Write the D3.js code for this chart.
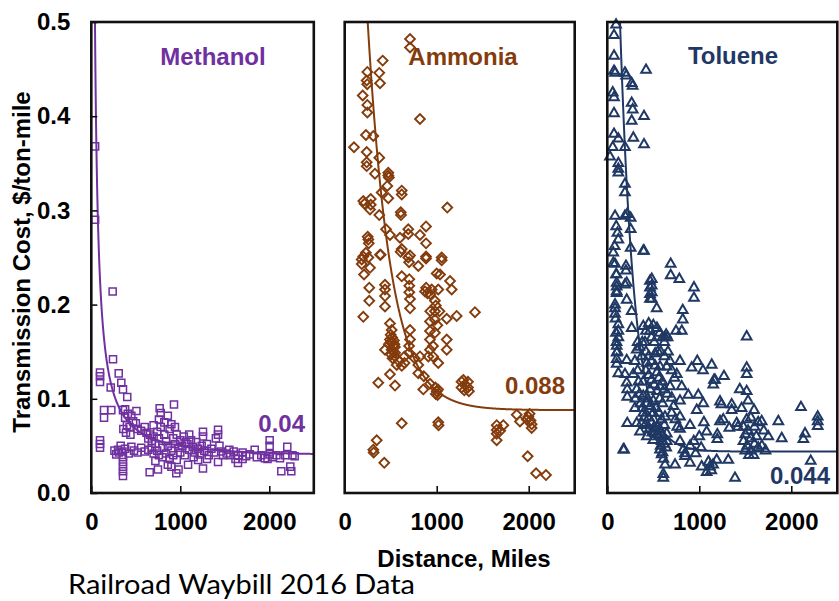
<!DOCTYPE html>
<html>
<head>
<meta charset="utf-8">
<script src="https://cdn.jsdelivr.net/npm/d3@7"></script>
<style>
  body { margin: 0; background: #fff; }
  svg { display: block; }
  .bold { font-family: "Liberation Sans", Arial, sans-serif; font-weight: bold; }
</style>
</head>
<body>
<svg id="chart" width="839" height="601"></svg>
<script>
// ---- data -------------------------------------------------------------
const chemicals = ["Methanol", "Ammonia", "Toluene"];
const colors = ["#7030A0", "#843C0C", "#1F3864"];
const asymptotes = [0.04, 0.088, 0.044];          // long-haul cost floor, $/ton-mile
const asymptoteLabels = ["0.04", "0.088", "0.044"];
const xTicks = [0, 1000, 2000];
const yTicks = [0, 0.1, 0.2, 0.3, 0.4, 0.5];
const yTickLabels = ["0.0", "0.1", "0.2", "0.3", "0.4", "0.5"];

// [distance in miles, cost in $/ton-mile]
const methanol = [
  [43,0.368],[43,0.290],[240,0.214],
  [98,0.128],[98,0.124],[98,0.118],[244,0.142],[308,0.127],[337,0.117],[356,0.110],[218,0.112],[404,0.102],
  [143,0.088],[143,0.080],[225,0.088],[356,0.088],[380,0.089],[98,0.056],[98,0.052],[98,0.048],
  [507,0.087],[768,0.090],[929,0.094],
  [380,0.080],[410,0.084],[450,0.082],[470,0.076],[400,0.072],[430,0.070],[500,0.074],[520,0.068],[390,0.064],
  [440,0.062],[560,0.066],[600,0.070],[620,0.064],[360,0.068],
  [300,0.046],[310,0.043],[330,0.050],[350,0.044],[380,0.047],[420,0.042],[450,0.049],[480,0.045],[520,0.043],
  [560,0.048],[600,0.044],[640,0.046],[280,0.041],[260,0.045],
  [356,0.033],[356,0.028],[356,0.023],[356,0.018],[356,0.038],
  [680,0.055],[700,0.060],[720,0.052],[740,0.065],[760,0.058],[780,0.070],[800,0.048],[820,0.062],[840,0.055],
  [860,0.050],[880,0.068],[900,0.045],[920,0.058],[940,0.052],[960,0.062],[980,0.048],[1000,0.056],[1020,0.050],
  [1040,0.060],[1060,0.054],[740,0.045],[760,0.040],[800,0.038],[840,0.042],[880,0.036],[920,0.040],[960,0.035],
  [1000,0.043],[700,0.072],[760,0.078],[820,0.075],[860,0.082],[900,0.073],[940,0.070],[780,0.085],[660,0.062],
  [640,0.058],[680,0.048],[700,0.042],[720,0.034],[860,0.030],[900,0.028],[955,0.021],[980,0.025],[749,0.025],
  [656,0.022],[1087,0.030],[1255,0.026],
  [1080,0.052],[1100,0.046],[1120,0.056],[1140,0.049],[1160,0.043],[1180,0.054],[1200,0.047],[1220,0.041],
  [1240,0.050],[1255,0.065],[1255,0.060],[1270,0.045],[1300,0.052],[1320,0.040],[1350,0.047],[1380,0.043],
  [1400,0.058],[1424,0.067],[1424,0.062],[1424,0.033],[1440,0.050],[1460,0.044],[1480,0.040],[1100,0.062],
  [1150,0.038],[1200,0.035],[1050,0.040],[1300,0.036],
  [1520,0.042],[1560,0.040],[1600,0.044],[1648,0.032],[1650,0.040],[1700,0.043],[1740,0.039],[1780,0.041],
  [1836,0.046],[1860,0.038],[1910,0.040],[1950,0.037],[2004,0.056],[2004,0.050],[2004,0.041],[2040,0.038],
  [2080,0.040],[2120,0.037],[2135,0.023],[2202,0.049],[2236,0.028],[2247,0.023],[2260,0.040],[2285,0.039],
  [2180,0.040],[1980,0.036],[1550,0.046],[1620,0.036],[1700,0.036]
];

const ammonia = [
  [710,0.482],[710,0.473],[413,0.459],[246,0.447],[376,0.446],[239,0.438],[245,0.434],[384,0.435],[196,0.422],
  [246,0.412],[246,0.404],[818,0.397],[231,0.380],[311,0.379],[101,0.367],[239,0.362],[376,0.356],[239,0.351],
  [239,0.347],[329,0.339],[474,0.340],[474,0.337],[480,0.335],[463,0.326],[402,0.319],[620,0.321],[620,0.317],
  [202,0.310],[215,0.307],[283,0.312],[283,0.306],[275,0.301],[474,0.313],[376,0.295],[609,0.298],[612,0.295],
  [1115,0.303],[449,0.280],[492,0.274],[257,0.269],[262,0.265],[250,0.272],[691,0.280],[691,0.275],[818,0.274],
  [884,0.283],[601,0.271],[884,0.265],[620,0.259],[391,0.253],[710,0.252],[1054,0.250],[884,0.251],[202,0.251],
  [230,0.255],[257,0.250],[185,0.248],[185,0.243],[275,0.239],[384,0.253],[608,0.256],[691,0.250],[700,0.245],
  [800,0.241],[884,0.249],[1054,0.247],[210,0.232],[267,0.218],[267,0.204],[202,0.187],[438,0.221],[438,0.216],
  [438,0.209],[438,0.198],[620,0.230],[702,0.227],[702,0.220],[702,0.213],[710,0.206],[710,0.196],[873,0.214],
  [885,0.218],[900,0.212],[946,0.216],[1017,0.216],[930,0.211],[1036,0.232],[1000,0.233],[1145,0.225],
  [1163,0.216],[981,0.204],[990,0.199],[981,0.193],[930,0.193],[1030,0.193],[1109,0.185],[1217,0.188],
  [1416,0.192],[927,0.182],[981,0.184],[1007,0.178],[492,0.180],[511,0.173],[492,0.163],[500,0.168],[520,0.160],
  [530,0.156],[547,0.149],[510,0.152],[540,0.158],[480,0.158],[438,0.152],[500,0.160],[515,0.165],[525,0.150],
  [535,0.162],[545,0.155],[505,0.147],[520,0.143],[547,0.145],[590,0.140],[620,0.135],[650,0.138],
  [710,0.173],[710,0.163],[700,0.156],[700,0.149],[927,0.172],[981,0.170],[927,0.163],[960,0.156],[1109,0.163],
  [1109,0.152],[927,0.152],[909,0.145],[960,0.145],[1017,0.138],[818,0.145],[800,0.136],[760,0.143],[565,0.136],
  [650,0.145],[492,0.126],[800,0.127],[860,0.124],[927,0.116],[365,0.117],[547,0.114],[854,0.110],
  [1000,0.108],[985,0.112],[1010,0.104],[990,0.105],[1015,0.110],
  [1308,0.115],[1270,0.118],[1340,0.118],[1270,0.112],[1340,0.112],[1300,0.109],[1350,0.108],[1290,0.120],
  [620,0.074],[1017,0.075],[1020,0.072],[1652,0.072],[1652,0.067],[1652,0.063],[1652,0.056],[1690,0.066],
  [1724,0.072],[1870,0.083],[1905,0.076],[1996,0.081],[1980,0.078],[2010,0.084],[2020,0.077],[2032,0.069],
  [2032,0.073],[1989,0.039],[2080,0.021],[2188,0.019],[348,0.056],[311,0.046],[315,0.043],[430,0.032]
];

const toluene = [
  [95,0.497],[73,0.486],[73,0.464],[73,0.448],[85,0.446],[59,0.425],[73,0.420],[73,0.403],[73,0.381],[120,0.376],
  [59,0.367],[29,0.357],[120,0.350],[120,0.344],[120,0.340],[84,0.294],[97,0.283],[110,0.276],[120,0.269],
  [80,0.262],[65,0.255],[65,0.244],[100,0.232],[102,0.219],[102,0.212],[84,0.243],[95,0.232],[102,0.223],
  [102,0.214],[84,0.200],[84,0.196],[120,0.179],[120,0.172],[120,0.165],[102,0.156],[102,0.149],[102,0.142],
  [102,0.137],[120,0.127],[84,0.190],[90,0.185],[100,0.160],[110,0.150],[95,0.170],
  [192,0.446],[205,0.443],[421,0.449],[265,0.435],[275,0.432],[265,0.414],[276,0.407],[399,0.400],[265,0.395],
  [283,0.377],[399,0.370],[192,0.367],[192,0.328],[192,0.319],[217,0.296],[254,0.292],[254,0.280],[192,0.294],
  [254,0.260],[399,0.257],[203,0.241],[203,0.236],[192,0.221],[211,0.205],[265,0.193],[265,0.175],[211,0.223],
  [211,0.141],[283,0.126],[192,0.126],[211,0.117],[217,0.110],[217,0.102],[217,0.074],[182,0.046],[320,0.074],
  [174,0.046],
  [689,0.243],[689,0.231],[783,0.227],[483,0.227],[483,0.220],[483,0.213],[483,0.206],[942,0.218],[942,0.207],
  [391,0.257],[464,0.225],[464,0.218],[464,0.211],[464,0.206],[537,0.196],[820,0.194],[820,0.184],[747,0.172],
  [810,0.172],[627,0.165],[640,0.168],[655,0.165],[620,0.160],[391,0.177],[420,0.172],[464,0.172],[480,0.165],
  [510,0.160],[540,0.175],[570,0.170],[450,0.180],[500,0.178],
  [320,0.152],[374,0.145],[428,0.138],[573,0.134],[646,0.134],[755,0.126],[790,0.140],[917,0.133],[978,0.140],
  [809,0.113],[880,0.104],[989,0.104],[1043,0.095],[972,0.088],[682,0.113],[700,0.101],[790,0.098],[573,0.113],
  [391,0.118],[464,0.110],[391,0.103],[428,0.095],[391,0.085],[500,0.085],[627,0.081],[790,0.081],[899,0.072],
  [374,0.074],[355,0.065],[518,0.065],[646,0.063],[790,0.068],[500,0.056],[591,0.055],[573,0.046],[591,0.041],
  [646,0.055],[790,0.055],[826,0.046],[845,0.039],[627,0.030],[736,0.030],[609,0.016],[609,0.020],
  [420,0.150],[450,0.145],[480,0.140],[520,0.135],[540,0.128],[560,0.122],[600,0.118],[620,0.110],[650,0.105],
  [420,0.130],[450,0.125],[480,0.120],[510,0.115],[540,0.108],[570,0.100],[600,0.095],[440,0.100],[470,0.092],
  [500,0.098],[530,0.090],[560,0.085],[590,0.078],[620,0.072],[450,0.080],[480,0.075],[510,0.070],[540,0.062],
  [570,0.068],[600,0.060],[620,0.052],[640,0.048],[580,0.050],[600,0.043],[610,0.036],[560,0.060],[540,0.070],
  [430,0.060],[460,0.068],[490,0.064],[700,0.085],[720,0.092],[740,0.078],[760,0.070],[680,0.140],[700,0.130],
  [730,0.122],[660,0.150],[620,0.145],[580,0.150],[300,0.140],[330,0.130],[340,0.118],[350,0.105],[360,0.095],
  [330,0.160],[350,0.155],[305,0.100],[300,0.090],[320,0.110],[380,0.090],[400,0.080],[410,0.072],[380,0.160],
  [410,0.160],[600,0.165],[550,0.150],[520,0.148],
  [1171,0.120],[1152,0.115],[1268,0.124],[1225,0.097],[1240,0.094],[1352,0.094],[1352,0.088],[1225,0.076],
  [1260,0.078],[1326,0.069],[1407,0.074],[1196,0.062],[1196,0.057],[1515,0.166],[1515,0.133],[1515,0.126],
  [1515,0.108],[1595,0.088],[1515,0.078],[1480,0.070],[1500,0.062],[1530,0.066],[1560,0.058],[1520,0.050],
  [1560,0.045],[1600,0.052],[1620,0.060],[1640,0.048],[1480,0.055],[1500,0.045],[1540,0.040],[1590,0.040],
  [1678,0.076],[1750,0.060],[1700,0.066],[1680,0.050],[1720,0.045],[1859,0.076],[1896,0.058],[2105,0.091],
  [2149,0.063],[2131,0.057],[2287,0.081],[2287,0.076],[2287,0.071],[2211,0.034],[1116,0.028],[1026,0.028],
  [1189,0.035],[1315,0.035],[1388,0.016],[1100,0.033],[1130,0.024],[1150,0.030],[1080,0.022],[1135,0.136],
  [1160,0.120],[1040,0.130],[1440,0.110],[1420,0.070],[1460,0.090],[1530,0.098],[1560,0.080],[1600,0.070],
  [1640,0.075],[899,0.032],[845,0.042],[1050,0.075],[1080,0.065],[1000,0.060],[940,0.055],[900,0.050],
  [960,0.042],[1020,0.048]
];

// Fitted decay of cost with haul distance toward the long-haul floor
const fits = [
  d => asymptotes[0] + (19.5 / d) * Math.exp(-d / 1500),  // methanol: hyperbolic, damped
  d => asymptotes[1] + 1.12 * Math.exp(-0.004 * d),       // ammonia: exponential decay
  d => asymptotes[2] + 1.12 * Math.exp(-0.0065 * d)       // toluene: exponential decay
];
const seriesData = [methanol, ammonia, toluene];

// ---- layout -----------------------------------------------------------
const svg = d3.select("#chart");
const plotTop = 22, plotBottom = 493;
const panelRanges = [[91.3, 313.8], [344.7, 574.7], [607.3, 837.3]];
const nameLabelPos = [[213, 65], [463, 65], [733, 63.5]];
const valueLabelPos = [[305, 432], [565, 394], [830, 483.5]];
const y = d3.scaleLinear().domain([0, 0.5]).range([plotBottom, plotTop]);

const markerPaths = [
  d3.symbol().type(d3.symbolSquare).size(50)(),
  d3.symbol().type(d3.symbolSquare).size(48)(),
  d3.symbol().type(d3.symbolTriangle).size(40)()
];
const markerRotate = [0, 45, 0];
const markerStroke = [1.5, 1.9, 2];

const defs = svg.append("defs");

chemicals.forEach((name, i) => {
  const x = d3.scaleLinear().domain([0, 2500]).range(panelRanges[i]);
  const g = svg.append("g");
  const color = colors[i];
  const w = panelRanges[i][1] - panelRanges[i][0];

  defs.append("clipPath").attr("id", "clip" + i)
    .append("rect")
    .attr("x", panelRanges[i][0]).attr("y", plotTop)
    .attr("width", w).attr("height", plotBottom - plotTop);

  // scatter markers
  g.append("g").selectAll("path")
    .data(seriesData[i])
    .join("path")
    .attr("d", markerPaths[i])
    .attr("transform", d => `translate(${x(d[0])},${y(d[1])}) rotate(${markerRotate[i]})`)
    .attr("fill", "none")
    .attr("stroke", color)
    .attr("stroke-width", markerStroke[i]);

  // fitted curve
  const dists = d3.range(2, 2501, 2);
  g.append("path")
    .datum(dists)
    .attr("clip-path", `url(#clip${i})`)
    .attr("fill", "none")
    .attr("stroke", color)
    .attr("stroke-width", 2)
    .attr("d", d3.line().x(d => x(d)).y(d => y(Math.min(fits[i](d), 0.6))));

  // x axis: inward ticks, labels below
  const xAxis = g.append("g")
    .attr("transform", `translate(0,${plotBottom})`)
    .call(d3.axisBottom(x).tickValues(xTicks).tickSize(-7).tickPadding(20).tickFormat(d3.format("d")));
  xAxis.select(".domain").remove();
  xAxis.selectAll("line").attr("stroke", "#000").attr("stroke-width", 1.5);
  xAxis.selectAll("text")
    .attr("class", "bold").attr("font-size", 24).attr("fill", "#000");

  // y axis only on the first panel
  if (i === 0) {
    const yAxis = g.append("g")
      .attr("transform", `translate(${panelRanges[0][0]},0)`)
      .call(d3.axisLeft(y).tickValues(yTicks).tickSize(-6).tickPadding(21)
        .tickFormat((d, k) => yTickLabels[k]));
    yAxis.select(".domain").remove();
    yAxis.selectAll("line").attr("stroke", "#000").attr("stroke-width", 1.5);
    yAxis.selectAll("text")
      .attr("class", "bold").attr("font-size", 24).attr("fill", "#000");
  }

  // panel frame
  g.append("rect")
    .attr("x", panelRanges[i][0]).attr("y", plotTop)
    .attr("width", w).attr("height", plotBottom - plotTop)
    .attr("fill", "none").attr("stroke", "#111").attr("stroke-width", 2.6);

  // chemical name
  g.append("text")
    .attr("class", "bold")
    .attr("x", nameLabelPos[i][0]).attr("y", nameLabelPos[i][1])
    .attr("text-anchor", "middle").attr("font-size", 24).attr("fill", color)
    .text(name);

  // asymptote value
  g.append("text")
    .attr("class", "bold")
    .attr("x", valueLabelPos[i][0]).attr("y", valueLabelPos[i][1])
    .attr("text-anchor", "end").attr("font-size", 24).attr("fill", color)
    .text(asymptoteLabels[i]);
});

// axis titles
svg.append("text")
  .attr("class", "bold")
  .attr("transform", "translate(30,262) rotate(-90)")
  .attr("text-anchor", "middle").attr("font-size", 24).attr("fill", "#000")
  .text("Transmission Cost, $/ton-mile");

svg.append("text")
  .attr("class", "bold")
  .attr("x", 464).attr("y", 567)
  .attr("text-anchor", "middle").attr("font-size", 24).attr("fill", "#000")
  .text("Distance, Miles");

svg.append("text")
  .attr("x", 68).attr("y", 594)
  .attr("font-family", "Lato, 'Open Sans', sans-serif")
  .attr("font-size", 27).attr("fill", "#000")
  .attr("textLength", 347).attr("lengthAdjust", "spacingAndGlyphs")
  .text("Railroad Waybill 2016 Data");
</script>
</body>
</html>
